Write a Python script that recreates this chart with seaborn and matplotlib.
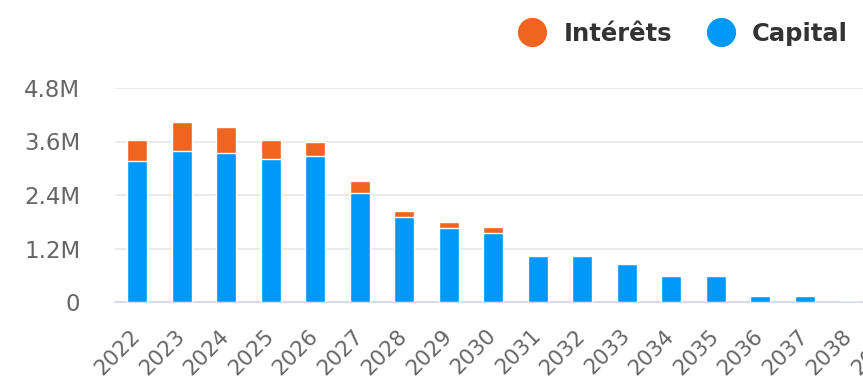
import matplotlib
matplotlib.use("Agg")
import matplotlib.pyplot as plt
import seaborn as sns
import pandas as pd
from matplotlib.lines import Line2D

years = [str(y) for y in range(2022, 2040)]
capital = [3.17, 3.39, 3.34, 3.21, 3.27, 2.44, 1.91, 1.66, 1.55, 1.03, 1.03, 0.85, 0.58, 0.58, 0.13, 0.13, 0.0, 0.0]
interets = [0.46, 0.65, 0.58, 0.42, 0.32, 0.27, 0.13, 0.13, 0.13, 0.0, 0.0, 0.0, 0.0, 0.0, 0.0, 0.0, 0.0, 0.0]
y_ticks = [0, 1.2, 2.4, 3.6, 4.8]
y_labels = ["0", "1.2M", "2.4M", "3.6M", "4.8M"]
series_names = ["Intérêts", "Capital"]

ORANGE = "#ef6420"
BLUE = "#0099fa"

df = pd.DataFrame({
    "annee": years,
    "capital": capital,
    "total": [c + i for c, i in zip(capital, interets)],
})

sns.set_style("white")
plt.rcParams["font.family"] = ["DejaVu Sans"]

fig = plt.figure(figsize=(8.63, 3.84), dpi=100)
W, H = 863, 384
left_px, right_px = 115, 115 + 18 * 44.5
top_px, bot_px = 88, 302
ax = fig.add_axes([left_px / W, 1 - bot_px / H, (right_px - left_px) / W, (bot_px - top_px) / H])

sns.barplot(data=df, x="annee", y="total", color=ORANGE, saturation=1, width=0.45,
            edgecolor="white", linewidth=1, ax=ax, zorder=3)
sns.barplot(data=df, x="annee", y="capital", color=BLUE, saturation=1, width=0.45,
            edgecolor="white", linewidth=1, ax=ax, zorder=4)

ax.set_xlim(-0.5, len(years) - 0.5)
ax.set_ylim(0, 4.8)
ax.set_yticks(y_ticks)
ax.set_yticklabels(y_labels)
ax.set_xlabel("")
ax.set_ylabel("")
ax.grid(axis="y", color="#e6e6e6", linewidth=1.2, zorder=0)
ax.grid(axis="x", visible=False)
for s in ["top", "right", "left"]:
    ax.spines[s].set_visible(False)
ax.spines["bottom"].set_color("#ccd6eb")
ax.spines["bottom"].set_linewidth(1.2)
ax.tick_params(axis="both", length=0, colors="#666666")
ax.tick_params(axis="y", pad=25, labelsize=16.5)
ax.tick_params(axis="x", pad=22, labelsize=15.5)
for lab in ax.get_xticklabels():
    lab.set_rotation(45)
    lab.set_ha("right")
    lab.set_va("center")
    lab.set_rotation_mode("anchor")

handles = [Line2D([], [], marker="o", linestyle="", markersize=20, color=ORANGE),
           Line2D([], [], marker="o", linestyle="", markersize=20, color=BLUE)]
leg = fig.legend(handles, series_names, loc="upper right", bbox_to_anchor=(1.008, 1.0),
                 ncol=2, frameon=False, handletextpad=0.3, columnspacing=1.0,
                 prop={"weight": "bold", "size": 17.5})
for t in leg.get_texts():
    t.set_color("#333333")

fig.savefig("out.png", dpi=100)
